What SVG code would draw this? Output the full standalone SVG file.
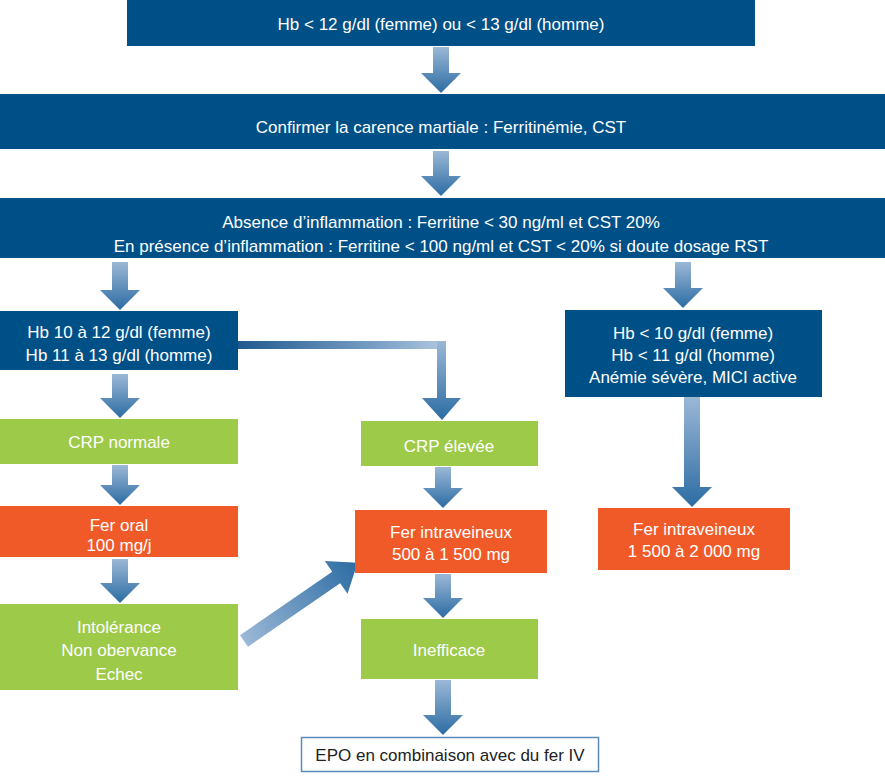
<svg xmlns="http://www.w3.org/2000/svg" width="885" height="776" viewBox="0 0 885 776">
<defs>
<linearGradient id="gv" x1="0" y1="0" x2="0" y2="1"><stop offset="0" stop-color="#9bb8d6"/><stop offset="1" stop-color="#2c6ca3"/></linearGradient>
<linearGradient id="gh" x1="0" y1="0" x2="1" y2="0"><stop offset="0" stop-color="#9bb8d6"/><stop offset="1" stop-color="#2c6ca3"/></linearGradient>
<linearGradient id="ge" x1="0" y1="0" x2="1" y2="0"><stop offset="0" stop-color="#1f5a8e"/><stop offset="0.7" stop-color="#7fa3c8"/><stop offset="1" stop-color="#b0c8e0"/></linearGradient>
<style>
.b{fill:#005088}.g{fill:#9dca48}.o{fill:#f05a28}
text{font-family:"Liberation Sans",Arial,sans-serif;font-size:17px;fill:#fff;text-anchor:middle}
.d{fill:#222}
</style>
</defs>
<g id="connectors">
<path fill="url(#gv)" d="M433,47H449V73H461L441,93L421,73H433Z"/>
<path fill="url(#gv)" d="M433,151H449V176H461L441,196L421,176H433Z"/>
<path fill="url(#gv)" d="M112,262H128V290H140L120,310L100,290H112Z"/>
<path fill="url(#gv)" d="M675,262H691V288H703L683,308L663,288H675Z"/>
<path fill="url(#ge)" d="M238,341H446V349H238Z"/>
<path fill="url(#gv)" d="M437,341H446V398H461L442,420L422,398H437Z"/>
<path fill="url(#gv)" d="M112,374H128V398H140L120,418L100,398H112Z"/>
<path fill="url(#gv)" d="M684,397H700V487H712L692,507L672,487H684Z"/>
<path fill="url(#gv)" d="M112,465H128V485H140L120,505L100,485H112Z"/>
<path fill="url(#gv)" d="M435,467H451V488H463L443,508L423,488H435Z"/>
<path fill="url(#gv)" d="M112,559H128V583H140L120,603L100,583H112Z"/>
<path fill="url(#gv)" d="M435,574H451V598H463L443,618L423,598H435Z"/>
<path fill="url(#gv)" d="M435,680H451V715H463L443,735L423,715H435Z"/>
<path fill="url(#gh)" transform="translate(244,641) rotate(-34.6)" d="M0,-7H112V-20L138,0L112,20V7H0Z"/>
</g>
<g id="n1"><rect class="b" x="127" y="0" width="628" height="46"/><text x="441" y="30">Hb &lt; 12 g/dl (femme) ou &lt; 13 g/dl (homme)</text></g>
<g id="n2"><rect class="b" x="0" y="94" width="885" height="55"/><text x="441" y="133">Confirmer la carence martiale : Ferritinémie, CST</text></g>
<g id="n3"><rect class="b" x="0" y="198" width="885" height="60"/><text x="441" y="228">Absence d’inflammation : Ferritine &lt; 30 ng/ml et CST 20%</text><text x="441" y="252">En présence d’inflammation : Ferritine &lt; 100 ng/ml et CST &lt; 20% si doute dosage RST</text></g>
<g id="n4"><rect class="b" x="0" y="311" width="238" height="59"/><text x="119" y="338">Hb 10 à 12 g/dl (femme)</text><text x="119" y="361">Hb 11 à 13 g/dl (homme)</text></g>
<g id="n5"><rect class="b" x="565" y="310" width="257" height="87"/><text x="693" y="339">Hb  &lt; 10 g/dl (femme)</text><text x="693" y="361">Hb  &lt; 11 g/dl (homme)</text><text x="693" y="383">Anémie sévère, MICI active</text></g>
<g id="n6"><rect class="g" x="0" y="419" width="238" height="45"/><text x="119" y="448">CRP normale</text></g>
<g id="n7"><rect class="g" x="361" y="421" width="177" height="45"/><text x="449" y="452">CRP élevée</text></g>
<g id="n8"><rect class="o" x="0" y="506" width="238" height="51"/><text x="119" y="531">Fer oral</text><text x="119" y="551">100 mg/j</text></g>
<g id="n9"><rect class="o" x="355" y="510" width="192" height="63"/><text x="451" y="538">Fer intraveineux</text><text x="451" y="560">500 à 1 500 mg</text></g>
<g id="n10"><rect class="o" x="598" y="508" width="192" height="62"/><text x="694" y="535">Fer intraveineux</text><text x="694" y="557">1 500 à 2 000 mg</text></g>
<g id="n11"><rect class="g" x="0" y="604" width="238" height="86"/><text x="119" y="633">Intolérance</text><text x="119" y="656">Non obervance</text><text x="119" y="680">Echec</text></g>
<g id="n12"><rect class="g" x="361" y="619" width="177" height="60"/><text x="449" y="656">Inefficace</text></g>
<g id="n13"><rect x="301.5" y="737.5" width="297" height="34" fill="#fff" stroke="#5b8bbd" stroke-width="1.5"/><text class="d" x="450" y="761">EPO en combinaison avec du fer IV</text></g>
</svg>
